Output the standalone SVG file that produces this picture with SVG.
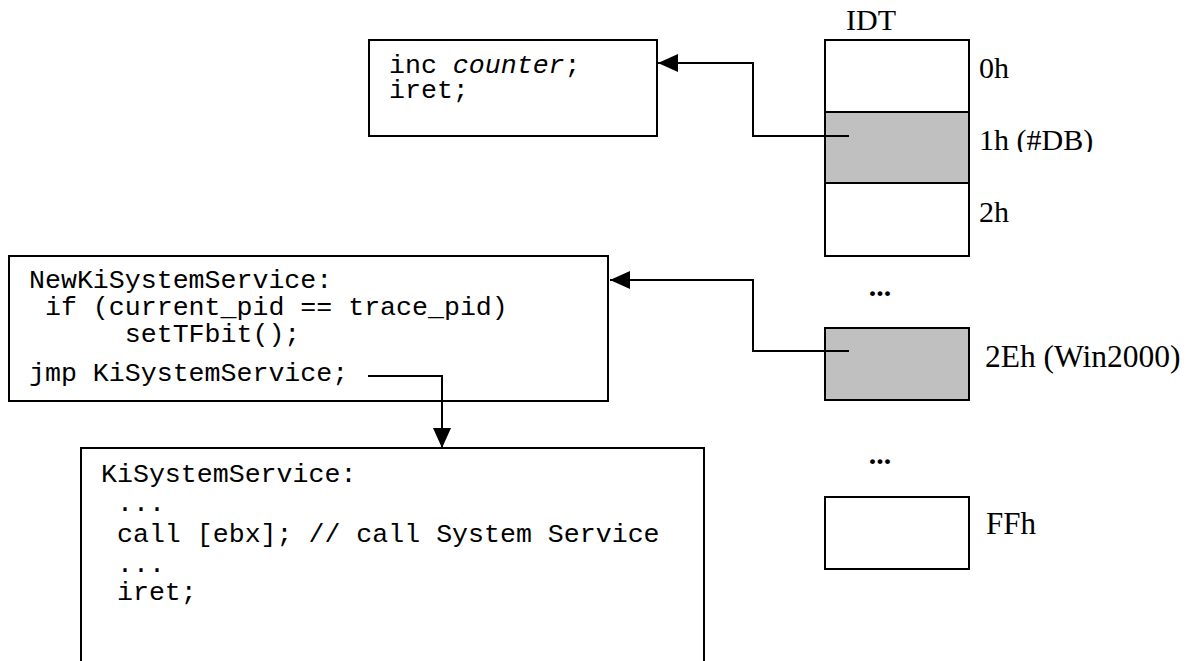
<svg xmlns="http://www.w3.org/2000/svg" width="1194" height="661" viewBox="0 0 1194 661">
  <style>
    .box { fill: #ffffff; stroke: #000000; stroke-width: 2; }
    .slot { fill: #ffffff; stroke: #000000; stroke-width: 2; }
    .hot { fill: #c0c0c0; stroke: #000000; stroke-width: 2; }
    .code { font-family: "Liberation Mono", "Courier New", monospace; font-size: 26.6px; fill: #000000; white-space: pre; }
    .lbl { font-family: "Liberation Serif", "Times New Roman", serif; font-size: 30px; fill: #000000; }
    .dots { font-family: "Liberation Serif", "Times New Roman", serif; font-size: 30px; font-weight: bold; fill: #000000; text-anchor: middle; }
    .wire { fill: none; stroke: #000000; stroke-width: 2; }
  </style>
  <defs>
    <marker id="arrow" viewBox="0 0 20 18" refX="20" refY="9" markerWidth="20" markerHeight="18" markerUnits="userSpaceOnUse" orient="auto">
      <path d="M0,0 L20,9 L0,18 Z" fill="#000000"/>
    </marker>
    <clipPath id="clip-db">
      <rect x="970" y="100" width="224" height="52"/>
    </clipPath>
  </defs>

  <rect width="1194" height="661" fill="#ffffff"/>

  <!-- debug handler -->
  <g id="handler">
    <rect class="box" x="369" y="40" width="288" height="96"/>
    <text class="code" xml:space="preserve"><tspan x="389" y="73">inc <tspan font-style="italic">counter</tspan>;</tspan><tspan x="389" y="98">iret;</tspan></text>
  </g>

  <!-- hooked system service entry -->
  <g id="new-kisystemservice">
    <rect class="box" x="9" y="256" width="599" height="145"/>
    <text class="code" xml:space="preserve"><tspan x="29" y="288">NewKiSystemService:</tspan><tspan x="29" y="315"> if (current_pid == trace_pid)</tspan><tspan x="29" y="342">      setTFbit();</tspan><tspan x="29" y="381">jmp KiSystemService;</tspan></text>
  </g>

  <!-- original system service dispatcher -->
  <g id="kisystemservice">
    <path class="box" d="M81,662 L81,448 L704,448 L704,662"/>
    <text class="code" xml:space="preserve"><tspan x="101" y="482">KiSystemService:</tspan><tspan x="101" y="511"> ...</tspan><tspan x="101" y="542"> call [ebx]; // call System Service</tspan><tspan x="101" y="572"> ...</tspan><tspan x="101" y="600"> iret;</tspan></text>
  </g>

  <!-- interrupt descriptor table -->
  <g id="idt">
    <text class="lbl" x="846" y="30">IDT</text>
    <rect class="slot" x="825" y="40" width="144" height="72"/>
    <rect class="hot" x="825" y="112" width="144" height="71"/>
    <rect class="slot" x="825" y="183" width="144" height="73"/>
    <text class="lbl" x="979" y="78">0h</text>
    <text class="lbl" x="979" y="150" clip-path="url(#clip-db)">1h (#DB)</text>
    <text class="lbl" x="979" y="222">2h</text>
    <text class="dots" x="880" y="296">...</text>
  </g>

  <g id="idt-2eh">
    <rect class="hot" x="825" y="328" width="144" height="72"/>
    <text class="lbl" x="985" y="367" style="font-size:31.5px">2Eh (Win2000)</text>
    <text class="dots" x="880" y="464">...</text>
  </g>

  <g id="idt-ffh">
    <rect class="slot" x="825" y="497" width="144" height="72"/>
    <text class="lbl" x="986" y="534" style="font-size:31px">FFh</text>
  </g>

  <!-- connectors -->
  <g id="connectors">
    <path class="wire" d="M849,136 L753,136 L753,63 L658,63" marker-end="url(#arrow)"/>
    <path class="wire" d="M849,351 L753,351 L753,280 L610,280" marker-end="url(#arrow)"/>
    <path class="wire" d="M368,376 L442,376 L442,448" marker-end="url(#arrow)"/>
  </g>
</svg>
